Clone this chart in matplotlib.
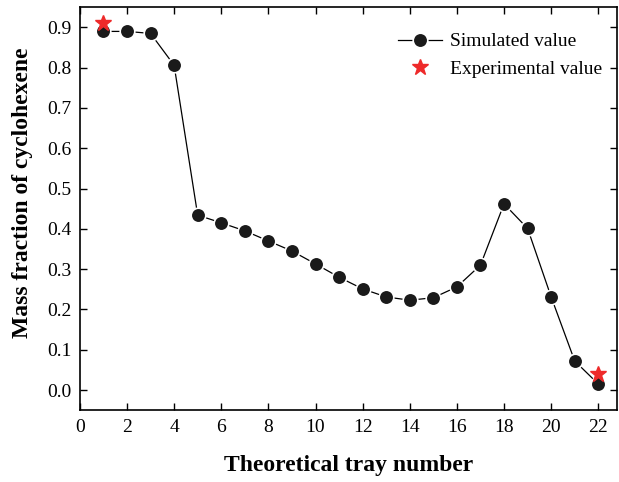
import numpy as np
import matplotlib.pyplot as plt

plt.rcParams['font.family'] = ['Liberation Serif', 'DejaVu Serif']

# données
tray = [1, 2, 3, 4, 5, 6, 7, 8, 9, 10, 11, 12, 13, 14, 15, 16, 17, 18, 19, 20, 21, 22]
sim = [0.890, 0.890, 0.885, 0.806, 0.434, 0.415, 0.395, 0.370, 0.345, 0.313, 0.280, 0.251,
       0.231, 0.223, 0.229, 0.256, 0.310, 0.462, 0.401, 0.231, 0.072, 0.015]
tray_exp = [1, 22]
exp = [0.912, 0.040]

fig = plt.figure(figsize=(6.19, 4.82), dpi=100)
ax = fig.add_axes([0.129, 0.149, 0.868, 0.836])

ax.plot(tray, sim, '-', color='black', lw=0.9, marker='o', ms=10.5,
        mfc='#1a1a1a', mec='white', mew=1.2, label='Simulated value', zorder=2)
ax.plot(tray_exp, exp, linestyle='none', marker='*', ms=12, color='#ee2a2a',
        label='Experimental value', zorder=3)

ax.set_xlim(0, 22.8)
ax.set_ylim(-0.05, 0.95)
ax.set_xticks(np.arange(0, 23, 2))
ax.set_yticks(np.arange(0, 1.0, 0.1))
ax.set_yticklabels(['%.1f' % v for v in np.arange(0, 1.0, 0.1)])
ax.tick_params(direction='in', top=True, right=True, labelsize=14, width=1, length=5, pad=6)
for s in ax.spines.values():
    s.set_linewidth(1.2)

ax.set_xlabel('Theoretical tray number', fontsize=17, fontweight='bold', labelpad=14)
ax.set_ylabel('Mass fraction of cyclohexene', fontsize=17, fontweight='bold')
ax.yaxis.set_label_coords(-0.087, 0.54)

ax.legend(loc='upper right', bbox_to_anchor=(1.005, 0.98), frameon=False, fontsize=14,
          handlelength=2.3, handletextpad=0.4, labelspacing=0.5)

fig.savefig('out.png', dpi=100)
